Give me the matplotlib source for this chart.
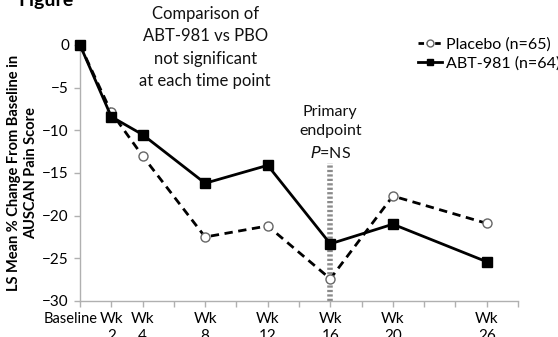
import matplotlib

matplotlib.use("Agg")
import matplotlib.pyplot as plt
from matplotlib.lines import Line2D

plt.rcParams["font.family"] = ["Lato", "DejaVu Sans"]

weeks = [0, 2, 4, 8, 12, 16, 20, 26]
week_labels = ["Baseline", "Wk\n2", "Wk\n4", "Wk\n8", "Wk\n12", "Wk\n16", "Wk\n20", "Wk\n26"]
placebo = [0, -7.9, -13.0, -22.5, -21.2, -27.4, -17.7, -20.9]
abt981 = [0, -8.4, -10.5, -16.2, -14.1, -23.3, -21.0, -25.4]
yticks = [0, -5, -10, -15, -20, -25, -30]

fig = plt.figure(figsize=(5.58, 3.37), dpi=100)
ax = fig.add_axes([80 / 558, 1 - 301 / 337, 438 / 558, 256 / 337])

# primary endpoint marker at week 16
ax.plot([16, 16], [-30, -13.8], color="#8a8a8a", linewidth=4,
        linestyle=(0, (0.4, 0.4)), zorder=1, clip_on=False)

ax.plot(weeks, placebo, color="black", linewidth=2, linestyle=(0, (3, 2)),
        marker="o", markersize=6.5, markerfacecolor="white",
        markeredgecolor="#666666", markeredgewidth=1, zorder=3, clip_on=False)
ax.plot(weeks, abt981, color="black", linewidth=2, marker="s", markersize=6.5,
        markerfacecolor="black", markeredgecolor="black", zorder=4, clip_on=False)

ax.set_xlim(0, 28)
ax.set_ylim(-30, 0)
ax.set_yticks(yticks)
ax.set_yticklabels(["0" if v == 0 else f"\u2212{abs(v)}" for v in yticks], fontsize=11)
ax.set_xticks(range(0, 29, 2))
# baseline label is drawn separately, a little left of its tick
ax.set_xticklabels([week_labels[weeks.index(w)] if (w in weeks and w != 0) else ""
                    for w in range(0, 29, 2)], fontsize=11, linespacing=1.3)
ax.annotate(week_labels[0], xy=(weeks[0], -30), xycoords="data", xytext=(-7, -8),
            textcoords="offset points", ha="center", va="top", fontsize=10.5,
            annotation_clip=False)
for s in ["top", "right"]:
    ax.spines[s].set_visible(False)
for s in ["left", "bottom"]:
    ax.spines[s].set_color("#b0b0b0")
    ax.spines[s].set_linewidth(1)
ax.tick_params(axis="both", color="#b0b0b0", length=4, width=1, pad=4)
ax.tick_params(axis="x", direction="out")

ax.set_ylabel("LS Mean % Change From Baseline in\nAUSCAN Pain Score", fontsize=10.5,
              fontweight="bold", labelpad=3, linespacing=1.25)

ax.text(8.0, 4.6, "Comparison of\nABT-981 vs PBO\nnot significant\nat each time point",
        ha="center", va="top", fontsize=12, linespacing=1.5, color="#111111")
ax.text(16, -7.0, "Primary\nendpoint\n$P$=NS", ha="center", va="top", fontsize=11.5,
        linespacing=1.5, color="#111111")

handles = [
    Line2D([], [], color="black", linewidth=2, linestyle=(0, (2, 1)), marker="o",
           markersize=5, markerfacecolor="white", markeredgecolor="#666666"),
    Line2D([], [], color="black", linewidth=2, marker="s", markersize=5),
]
fig.legend(handles, ["Placebo (n=65)", "ABT-981 (n=64)"], loc="upper left",
           bbox_to_anchor=(412 / 558, 1 - 31 / 337), frameon=False, fontsize=11.5,
           handlelength=1.5, handletextpad=0.25, labelspacing=0.3, borderaxespad=0)

fig.text(18 / 558, 1 - 6 / 337, "Figure", fontsize=14, fontweight="bold", va="baseline")

fig.savefig("out.png", dpi=100)
